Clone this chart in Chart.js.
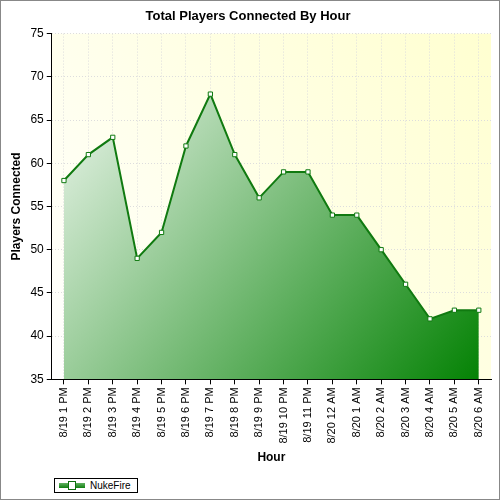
<!DOCTYPE html>
<html lang="en">
<head>
    <meta charset="UTF-8">
    <title>Total Players Connected By Hour</title>
    <script src="https://cdn.jsdelivr.net/npm/chart.js"></script>
    <style>
        body { margin: 0; background: white; font-family: "Liberation Sans", Arial, sans-serif; }
        .wrap { position: relative; width: 498px; height: 498px; border: 1px solid #888; }
        .legend {
            position: absolute; left: 53px; top: 477px; width: 82px; height: 13px;
            border: 1px solid black; font-size: 10px; line-height: 13px; background: white;
        }
        .legend .sw { position: absolute; left: 4px; top: 4px; width: 26px; height: 5px; background: linear-gradient(#60b060, #108010); }
        .legend .pt { position: absolute; left: 13px; top: 2px; width: 6px; height: 7px; background: white; border: 1px solid #107010; }
        .legend span { position: absolute; left: 35px; }
    </style>
</head>
<body>
<div class="wrap">
    <canvas id="myChart" width="498" height="498"></canvas>
    <div class="legend"><div class="sw"></div><div class="pt"></div><span>NukeFire</span></div>
</div>
<script>
    const labels = ['8/19 1 PM','8/19 2 PM','8/19 3 PM','8/19 4 PM','8/19 5 PM','8/19 6 PM','8/19 7 PM',
        '8/19 8 PM','8/19 9 PM','8/19 10 PM','8/19 11 PM','8/20 12 AM','8/20 1 AM','8/20 2 AM',
        '8/20 3 AM','8/20 4 AM','8/20 5 AM','8/20 6 AM'];
    const players = [58, 61, 63, 49, 52, 62, 68, 61, 56, 59, 59, 54, 54, 50, 46, 42, 43, 43];

    // plot area background, light yellow gradient
    const plotBg = {
        id: 'plotBg',
        beforeDraw(chart) {
            const a = chart.chartArea, ctx = chart.ctx;
            const g = ctx.createLinearGradient(a.left, a.bottom, a.right, a.top);
            g.addColorStop(0, '#ffffff');
            g.addColorStop(1, '#ffffd0');
            ctx.save();
            ctx.fillStyle = g;
            ctx.fillRect(a.left, a.top, a.width, a.height);
            ctx.restore();
        }
    };

    new Chart(document.getElementById('myChart'), {
        type: 'line',
        data: {
            labels: labels,
            datasets: [{
                label: 'NukeFire',
                data: players,
                borderColor: '#107a10',
                borderWidth: 2,
                tension: 0,
                pointRadius: 3,
                pointStyle: 'rect',
                pointBackgroundColor: 'white',
                pointBorderColor: '#107a10',
                pointBorderWidth: 1,
                fill: 'start',
                backgroundColor: (c) => {
                    const a = c.chart.chartArea;
                    if (!a) return 'green';
                    const g = c.chart.ctx.createLinearGradient(a.left, a.top, a.right, a.bottom);
                    g.addColorStop(0, '#ffffff');
                    g.addColorStop(1, '#008000');
                    return g;
                }
            }]
        },
        options: {
            responsive: false,
            animation: false,
            layout: { padding: { left: 4, right: 8, top: 0, bottom: 30 } },
            plugins: {
                legend: { display: false },
                tooltip: { enabled: false },
                title: {
                    display: true, text: 'Total Players Connected By Hour', color: 'black',
                    font: { size: 13, weight: 'bold', family: 'Liberation Sans' },
                    padding: { top: 8, bottom: 9 }
                }
            },
            scales: {
                x: {
                    offset: true,
                    grid: { color: '#ddd', borderDash: [1, 2], drawTicks: true, tickColor: 'black', tickLength: 5, offset: false },
                    border: { color: 'black', dash: [1, 2] },
                    ticks: { color: 'black', maxRotation: 90, minRotation: 90, autoSkip: false, font: { size: 11, family: 'Liberation Sans' } },
                    title: { display: true, text: 'Hour', color: 'black', font: { size: 12, weight: 'bold', family: 'Liberation Sans' } }
                },
                y: {
                    min: 35, max: 75,
                    grid: { color: '#ddd', tickColor: 'black', tickLength: 5 },
                    border: { color: 'black', dash: [1, 2] },
                    ticks: { stepSize: 5, color: 'black', font: { size: 12, family: 'Liberation Sans' } },
                    title: { display: true, text: 'Players Connected', color: 'black', font: { size: 12, weight: 'bold', family: 'Liberation Sans' } }
                }
            }
        },
        plugins: [plotBg]
    });
</script>
</body>
</html>
